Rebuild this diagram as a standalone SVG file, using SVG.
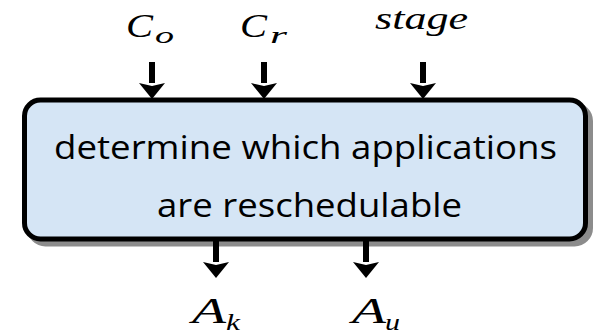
<svg xmlns="http://www.w3.org/2000/svg" width="595" height="334" viewBox="0 0 595 334">
  <defs>
    <marker id="head" markerUnits="userSpaceOnUse" markerWidth="16" markerHeight="26" refX="0" refY="13" orient="auto">
      <path d="M0,0 L16,13 L0,26 L3,13 z" fill="#000"/>
    </marker>
  </defs>
  <style>
    .math { font-family: "Liberation Serif", "DejaVu Serif", serif; font-style: italic; fill: #000; }
    .lbl { font-family: "Open Sans", "Noto Sans", "Liberation Sans", sans-serif; font-size: 33px; fill: #000; }
    .conn { stroke: #000; stroke-width: 6; fill: none; marker-end: url(#head); }
  </style>
  <rect width="595" height="334" fill="#fff"/>

  <g id="box">
    <rect x="29.5" y="105" width="561" height="139" rx="16" fill="#8c8c8c" stroke="#8c8c8c" stroke-width="5"/>
    <rect x="24.5" y="100" width="561" height="139" rx="16" fill="#d5e5f5" stroke="#000" stroke-width="5"/>
    <text class="lbl" x="54" y="159" textLength="503" lengthAdjust="spacingAndGlyphs">determine which applications</text>
    <text class="lbl" x="157" y="217" textLength="305" lengthAdjust="spacingAndGlyphs">are reschedulable</text>
  </g>

  <g id="in-Co">
    <text class="math" x="126" y="37" font-size="33" textLength="27" lengthAdjust="spacingAndGlyphs">C</text>
    <text class="math" x="155" y="43" font-size="23" textLength="19" lengthAdjust="spacingAndGlyphs">o</text>
  </g>
  <g id="in-Cr">
    <text class="math" x="240" y="37" font-size="33" textLength="27" lengthAdjust="spacingAndGlyphs">C</text>
    <text class="math" x="270" y="43" font-size="23" textLength="17" lengthAdjust="spacingAndGlyphs">r</text>
  </g>
  <g id="in-stage">
    <text class="math" x="375" y="29" font-size="32" textLength="93" lengthAdjust="spacingAndGlyphs">stage</text>
  </g>
  <g id="out-Ak">
    <text class="math" x="192" y="323" font-size="36" textLength="34" lengthAdjust="spacingAndGlyphs">A</text>
    <text class="math" x="226" y="330" font-size="24" textLength="14" lengthAdjust="spacingAndGlyphs">k</text>
  </g>
  <g id="out-Au">
    <text class="math" x="352" y="323" font-size="36" textLength="34" lengthAdjust="spacingAndGlyphs">A</text>
    <text class="math" x="385" y="330" font-size="24" textLength="15" lengthAdjust="spacingAndGlyphs">u</text>
  </g>

  <g id="connectors">
    <line class="conn" x1="152" y1="62" x2="152" y2="83"/>
    <line class="conn" x1="264" y1="62" x2="264" y2="83"/>
    <line class="conn" x1="423" y1="62" x2="423" y2="83"/>
    <line class="conn" x1="216" y1="241" x2="216" y2="262"/>
    <line class="conn" x1="366" y1="241" x2="366" y2="262"/>
  </g>
</svg>
